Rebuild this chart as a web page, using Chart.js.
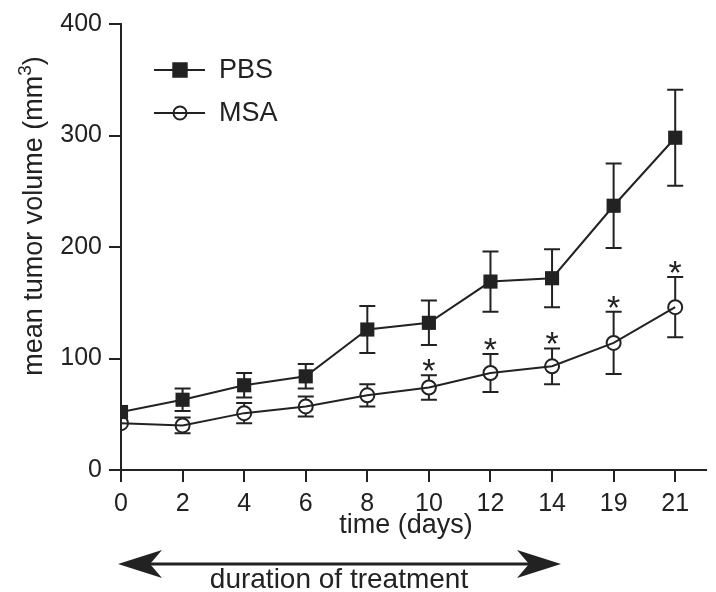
<!DOCTYPE html>
<html>
<head>
<meta charset="utf-8">
<script src="https://cdn.jsdelivr.net/npm/chart.js@4.4.1/dist/chart.umd.min.js"></script>
<style>
  html, body { margin: 0; padding: 0; background: #fff; }
</style>
</head>
<body>
<canvas id="chart" width="716" height="592"></canvas>
<script>
/* ====== Data ====== */
const days = ["0", "2", "4", "6", "8", "10", "12", "14", "19", "21"];
const pbsMean = [52, 63, 76, 84, 126, 132, 169, 172, 237, 298];
const pbsErr = [5, 10, 11, 11, 21, 20, 27, 26, 38, 43];
const msaMean = [42, 40, 51, 57, 67, 74, 87, 93, 114, 146];
const msaErr = [4, 7, 9, 9, 10, 11, 17, 16, 28, 27];
const msaSig = [false, false, false, false, false, true, true, true, true, true];
const yTicks = [0, 100, 200, 300, 400];

/* ====== Helpers ====== */
const ink = "#222";
const font = "'Liberation Sans', Arial, sans-serif";
const toPoints = (arr) => arr.map((v, i) => ({ x: i, y: v }));

/* ====== Overlay: error bars, asterisks, legend, titles, arrow ====== */
const overlay = {
  id: "overlay",
  beforeDatasetsDraw(chart) {
    const { ctx, scales: { x, y } } = chart;
    const cap = 8;
    ctx.save();
    ctx.strokeStyle = ink;
    ctx.lineWidth = 2;
    // [means, errors, gap around marker, marker half size]
    [[pbsMean, pbsErr, 0, 7], [msaMean, msaErr, 7, 7]].forEach(([means, errs, gap, half]) => {
      means.forEach((v, i) => {
        const px = x.getPixelForValue(i);
        const yc = y.getPixelForValue(v);
        const yt = y.getPixelForValue(v + errs[i]);
        const yb = y.getPixelForValue(v - errs[i]);
        if (yc - yt <= half) return; // hidden behind the marker
        ctx.beginPath();
        if (yt < yc - gap) { ctx.moveTo(px, yt); ctx.lineTo(px, yc - gap); }
        if (yb > yc + gap) { ctx.moveTo(px, yc + gap); ctx.lineTo(px, yb); }
        ctx.moveTo(px - cap, yt); ctx.lineTo(px + cap, yt);
        ctx.moveTo(px - cap, yb); ctx.lineTo(px + cap, yb);
        ctx.stroke();
      });
    });
    ctx.restore();
  },
  afterDraw(chart) {
    const { ctx, scales: { x, y } } = chart;
    ctx.save();
    ctx.fillStyle = ink;
    ctx.strokeStyle = ink;

    // asterisks above the MSA error bars
    ctx.font = `34px ${font}`;
    ctx.textAlign = "center";
    ctx.textBaseline = "alphabetic";
    msaSig.forEach((s, i) => {
      if (!s) return;
      const px = x.getPixelForValue(i);
      const yt = y.getPixelForValue(msaMean[i] + msaErr[i]);
      ctx.fillText("*", px, yt + 7);
    });

    // legend
    const items = [
      { label: "PBS", y: 70, style: "rect", r: 9.5, fill: ink },
      { label: "MSA", y: 113, style: "circle", r: 6.5, fill: "rgba(0,0,0,0)" },
    ];
    items.forEach((it) => {
      ctx.lineWidth = 2;
      ctx.beginPath();
      ctx.moveTo(154, it.y);
      ctx.lineTo(205, it.y);
      ctx.stroke();
      ctx.fillStyle = it.fill;
      Chart.helpers.drawPoint(ctx, { pointStyle: it.style, radius: it.r, borderWidth: 2, rotation: 0 }, 180, it.y);
      ctx.fillStyle = ink;
      ctx.font = `27px ${font}`;
      ctx.textAlign = "left";
      ctx.textBaseline = "middle";
      ctx.fillText(it.label, 219, it.y + 1);
    });

    // y title with superscript
    ctx.save();
    ctx.translate(42, 216);
    ctx.rotate(-Math.PI / 2);
    const main = "mean tumor volume (mm";
    ctx.font = `27px ${font}`;
    const w1 = ctx.measureText(main).width;
    const w3 = ctx.measureText(")").width;
    ctx.font = `19px ${font}`;
    const w2 = ctx.measureText("3").width;
    const total = w1 + w2 + w3;
    const sx = -total / 2;
    ctx.textAlign = "left";
    ctx.textBaseline = "alphabetic";
    ctx.font = `27px ${font}`;
    ctx.fillText(main, sx, 0);
    ctx.font = `19px ${font}`;
    ctx.fillText("3", sx + w1, -11);
    ctx.font = `27px ${font}`;
    ctx.fillText(")", sx + w1 + w2, 0);
    ctx.restore();

    // x title
    ctx.font = `27px ${font}`;
    ctx.textAlign = "center";
    ctx.textBaseline = "alphabetic";
    ctx.fillText("time (days)", 406, 533);

    // treatment arrow
    const ay = 564, x0 = 118, x1 = 561;
    ctx.lineWidth = 3;
    ctx.beginPath();
    ctx.moveTo(x0 + 20, ay);
    ctx.lineTo(x1 - 20, ay);
    ctx.stroke();
    [[x0, 1], [x1, -1]].forEach(([tx, d]) => {
      ctx.beginPath();
      ctx.moveTo(tx, ay);
      ctx.lineTo(tx + d * 44, ay - 14);
      ctx.lineTo(tx + d * 32, ay);
      ctx.lineTo(tx + d * 44, ay + 14);
      ctx.closePath();
      ctx.fill();
    });
    ctx.font = `28px ${font}`;
    ctx.fillText("duration of treatment", 339, 588);

    ctx.restore();
  },
};

/* ====== Chart ====== */
new Chart(document.getElementById("chart"), {
  type: "line",
  data: {
    datasets: [
      {
        label: "PBS",
        data: toPoints(pbsMean),
        borderColor: ink,
        borderWidth: 2,
        pointStyle: "rect",
        pointRadius: 10,
        pointBackgroundColor: ink,
        pointBorderColor: ink,
        pointBorderWidth: 0,
        tension: 0,
      },
      {
        label: "MSA",
        data: toPoints(msaMean),
        borderColor: ink,
        borderWidth: 2,
        pointStyle: "circle",
        pointRadius: 7,
        pointBackgroundColor: "rgba(0,0,0,0)",
        pointBorderColor: ink,
        pointBorderWidth: 2,
        tension: 0,
      },
    ],
  },
  options: {
    responsive: false,
    animation: false,
    events: [],
    layout: { padding: { top: 24, left: 0, right: 0, bottom: 0 } },
    plugins: {
      legend: { display: false },
      tooltip: { enabled: false },
    },
    scales: {
      x: {
        type: "linear",
        min: 0,
        max: 9.5,
        afterBuildTicks: (s) => {
          s.ticks = days.map((d, i) => ({ value: i }));
        },
        afterFit: (s) => { s.height = 122; },
        border: { color: ink, width: 2 },
        grid: { drawOnChartArea: false, color: ink, lineWidth: 2, tickLength: 12 },
        ticks: {
          color: ink,
          font: { family: font, size: 25 },
          padding: 7,
          maxRotation: 0,
          autoSkip: false,
          callback: (v) => days[v] ?? "",
        },
      },
      y: {
        min: 0,
        max: 400,
        afterBuildTicks: (s) => {
          s.ticks = yTicks.map((v) => ({ value: v }));
        },
        afterFit: (s) => { s.width = 121; },
        border: { color: ink, width: 2 },
        grid: { drawOnChartArea: false, color: ink, lineWidth: 2, tickLength: 12 },
        ticks: {
          color: ink,
          font: { family: font, size: 25 },
          padding: 7,
        },
      },
    },
  },
  plugins: [overlay],
});
</script>
</body>
</html>
